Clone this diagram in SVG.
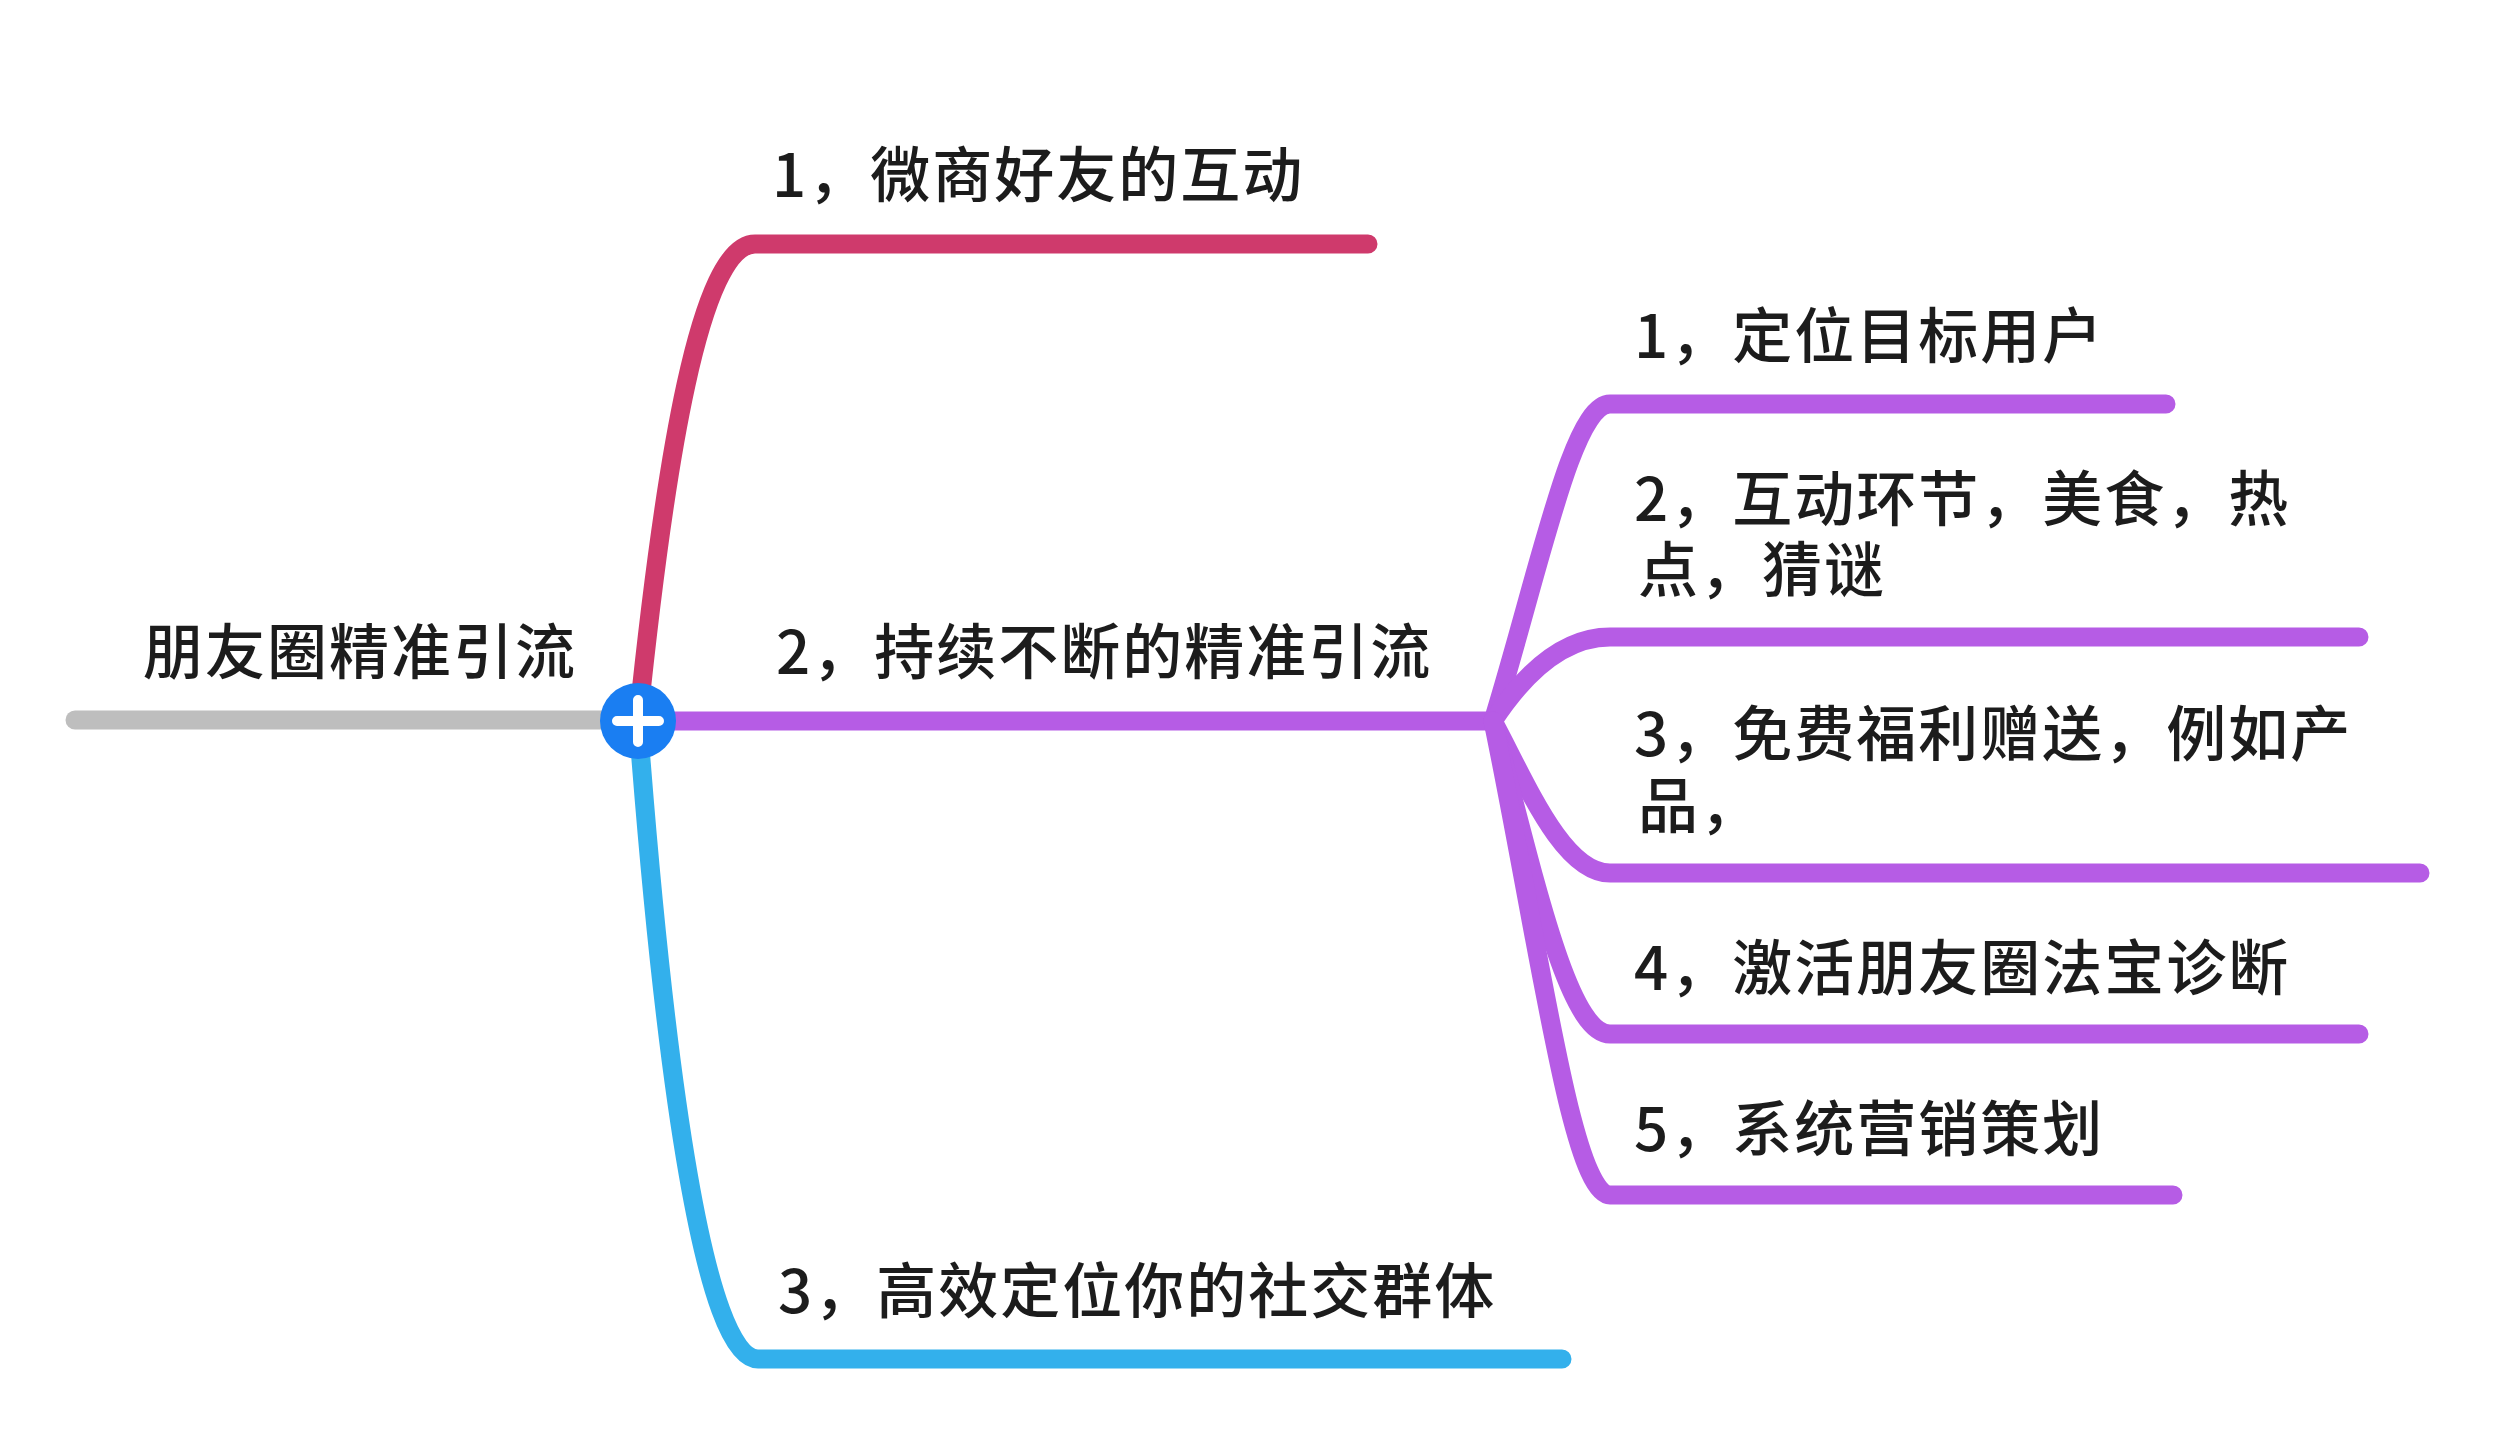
<svg xmlns="http://www.w3.org/2000/svg" width="2500" height="1440" viewBox="0 0 2500 1440">
<style>
.t{font-family:"Noto Sans CJK SC","Noto Sans",sans-serif;font-size:60px;font-weight:500;fill:#1c1c1c;letter-spacing:2px}
.ln{fill:none;stroke-width:19;stroke-linecap:round;stroke-linejoin:round}
.red{stroke:#CF3A6C}.pur{stroke:#B65CE5}.blu{stroke:#33B0EC}.gry{stroke:#BEBEBE}
</style>
<rect width="2500" height="1440" fill="#FFFFFF"/>
<g id="connectors">
<path class="ln gry" d="M 75 720 L 620 720"/>
<path class="ln red" d="M 638 721 C 665 460, 700 244, 755 244 L 1368 244"/>
<path class="ln pur" d="M 638 721 L 1493 721"/>
<path class="ln blu" d="M 638 721 C 665 1080, 705 1359, 758 1359 L 1562 1359"/>
<path class="ln pur" d="M 1493 721 C 1540 568, 1572 404, 1610 404 L 2166 404"/>
<path class="ln pur" d="M 1493 721 C 1520 680, 1560 637, 1610 637 L 2359 637"/>
<path class="ln pur" d="M 1493 721 C 1525 780, 1562 873, 1610 873 L 2420 873"/>
<path class="ln pur" d="M 1493 721 C 1535 880, 1568 1034, 1610 1034 L 2359 1034"/>
<path class="ln pur" d="M 1493 721 C 1540 950, 1572 1195, 1610 1195 L 2173 1195"/>
</g>
<g id="root">
<text class="t" x="143" y="674">朋友圈精准引流</text>
<circle cx="638" cy="721" r="38" fill="#1A7EF2"/>
<path d="M 617 721 H 659 M 638 700 V 742" stroke="#FFFFFF" stroke-width="10" stroke-linecap="round"/>
</g>
<g id="node-b1"><text class="t" x="772" y="197">1，微商好友的互动</text></g>
<g id="node-b2"><text class="t" x="776" y="674">2，持续不断的精准引流</text></g>
<g id="node-b3"><text class="t" x="778" y="1313">3，高效定位你的社交群体</text></g>
<g id="node-s1"><text class="t" x="1634" y="358">1，定位目标用户</text></g>
<g id="node-s2"><text class="t"><tspan x="1634" y="521">2，互动环节，美食，热</tspan><tspan x="1638" y="592">点，猜谜</tspan></text></g>
<g id="node-s3"><text class="t"><tspan x="1634" y="756">3，免费福利赠送，例如产</tspan><tspan x="1638" y="828">品，</tspan></text></g>
<g id="node-s4"><text class="t" x="1634" y="990">4，激活朋友圈法宝诊断</text></g>
<g id="node-s5"><text class="t" x="1634" y="1151">5，系统营销策划</text></g>
</svg>
